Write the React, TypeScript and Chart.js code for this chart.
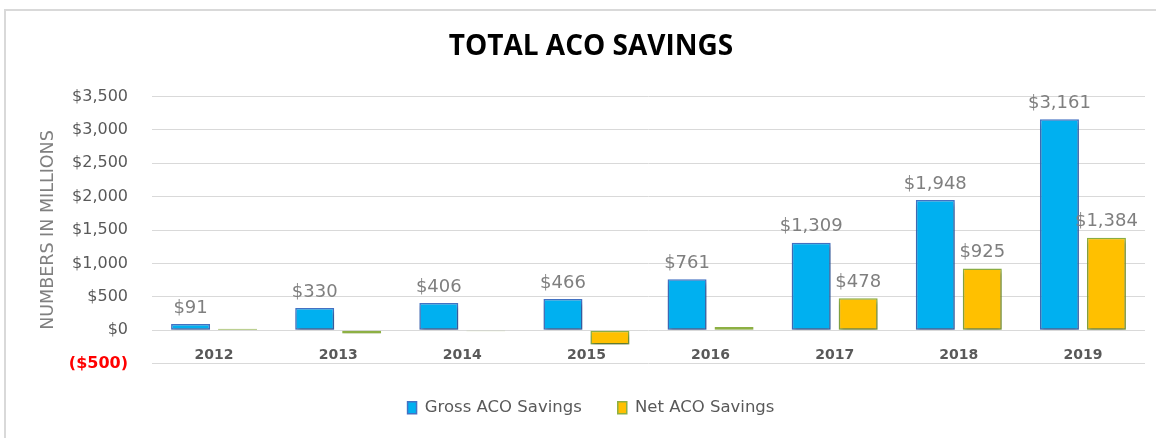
import React, { useEffect, useRef } from 'react';
import { Chart, registerables } from 'chart.js';

Chart.register(...registerables);

const categories = ['2012', '2013', '2014', '2015', '2016', '2017', '2018', '2019'];
const grossSavings = [91, 330, 406, 466, 761, 1309, 1948, 3161];
const netSavings = [20, -50, -15, -216, 45, 478, 925, 1384];
const showGrossLabel = [true, true, true, true, true, true, true, true];
const showNetLabel = [false, false, false, false, false, true, true, true];
const yMin = -500;
const yMax = 3500;
const yStep = 500;

const FONT = "'DejaVu Sans', sans-serif";

const money = (v: number) =>
  v < 0 ? `($${Math.abs(v).toLocaleString('en-US')})` : `$${v.toLocaleString('en-US')}`;

const shadowPlugin = {
  id: 'barShadow',
  beforeDatasetsDraw(chart: any) {
    const ctx = chart.ctx;
    ctx.save();
    ctx.shadowColor = 'rgba(0,0,0,0.35)';
    ctx.shadowBlur = 4;
    ctx.shadowOffsetX = 1;
    ctx.shadowOffsetY = 3;
  },
  afterDatasetsDraw(chart: any) {
    chart.ctx.restore();
  },
};

const labelPlugin = {
  id: 'valueLabels',
  afterDatasetsDraw(chart: any) {
    const ctx = chart.ctx;
    const flags = [showGrossLabel, showNetLabel];
    ctx.save();
    ctx.font = `18px ${FONT}`;
    ctx.fillStyle = '#7f7f7f';
    ctx.textAlign = 'center';
    ctx.textBaseline = 'middle';
    chart.data.datasets.forEach((ds: any, i: number) => {
      const meta = chart.getDatasetMeta(i);
      meta.data.forEach((bar: any, j: number) => {
        if (!flags[i][j]) return;
        const v = ds.data[j] as number;
        ctx.fillText(money(v), bar.x, Math.min(bar.y, bar.base) - 16);
      });
    });
    ctx.restore();
  },
};

export default function App() {
  const canvasRef = useRef<HTMLCanvasElement | null>(null);

  useEffect(() => {
    if (!canvasRef.current) return;
    const chart = new Chart(canvasRef.current, {
      type: 'bar',
      data: {
        labels: categories,
        datasets: [
          {
            label: 'Gross ACO Savings',
            data: grossSavings,
            backgroundColor: '#00B0F0',
            borderColor: '#4472C4',
            borderWidth: 1.5,
            borderSkipped: false,
            categoryPercentage: 0.757,
            barPercentage: 0.83,
          },
          {
            label: 'Net ACO Savings',
            data: netSavings,
            backgroundColor: '#FFC000',
            borderColor: '#8DB043',
            borderWidth: 1.5,
            borderSkipped: false,
            categoryPercentage: 0.757,
            barPercentage: 0.83,
          },
        ],
      },
      options: {
        responsive: false,
        animation: false,
        layout: { padding: { left: 0, right: 0, top: 0, bottom: 12 } },
        plugins: {
          title: {
            display: true,
            text: 'TOTAL ACO SAVINGS',
            color: '#000000',
            font: { family: "'Open Sans', sans-serif", size: 28, weight: 'bold', lineHeight: 1.2 },
            padding: { top: 19.5, bottom: 32.4 },
          },
          legend: {
            position: 'bottom',
            labels: {
              color: '#595959',
              font: { family: FONT, size: 16.5 },
              boxWidth: 9,
              boxHeight: 12,
              padding: 36,
            },
          },
          tooltip: { enabled: false },
        },
        scales: {
          x: {
            position: { y: 0 } as any,
            grid: { display: false, drawTicks: false },
            border: { display: false },
            ticks: {
              padding: 17,
              color: '#595959',
              font: { family: FONT, size: 14, weight: 'bold' },
            },
          },
          y: {
            min: yMin,
            max: yMax,
            afterFit: (s: any) => {
              s.width = 115;
            },
            border: { display: false },
            grid: { color: '#d9d9d9', lineWidth: 1, drawTicks: false },
            ticks: {
              stepSize: yStep,
              padding: 24,
              color: (c: any) => (c.tick.value < 0 ? '#ff0000' : '#595959'),
              font: (c: any) => ({
                family: FONT,
                size: 16,
                weight: c.tick && c.tick.value < 0 ? 'bold' : 'normal',
              }),
              callback: (v: any) => money(Number(v)),
            },
            title: {
              display: true,
              text: 'NUMBERS IN MILLIONS',
              color: '#808080',
              font: { family: FONT, size: 17.5 },
              padding: { top: 0.5, bottom: 0 },
            },
          },
        },
      },
      plugins: [shadowPlugin, labelPlugin],
    });
    return () => chart.destroy();
  }, []);

  return (
    <div
      style={{
        position: 'fixed',
        left: 0,
        top: 0,
        width: 1156,
        height: 438,
        overflow: 'hidden',
        background: '#ffffff',
      }}
    >
      <div
        style={{
          position: 'absolute',
          left: 4,
          top: 9,
          width: 1172,
          height: 440,
          borderTop: '2px solid #d9d9d9',
          borderLeft: '2px solid #d9d9d9',
        }}
      />
      <canvas
        ref={canvasRef}
        width={1108}
        height={427}
        style={{ position: 'absolute', left: 37, top: 11, display: 'block', width: 1108, height: 427 }}
      />
    </div>
  );
}
